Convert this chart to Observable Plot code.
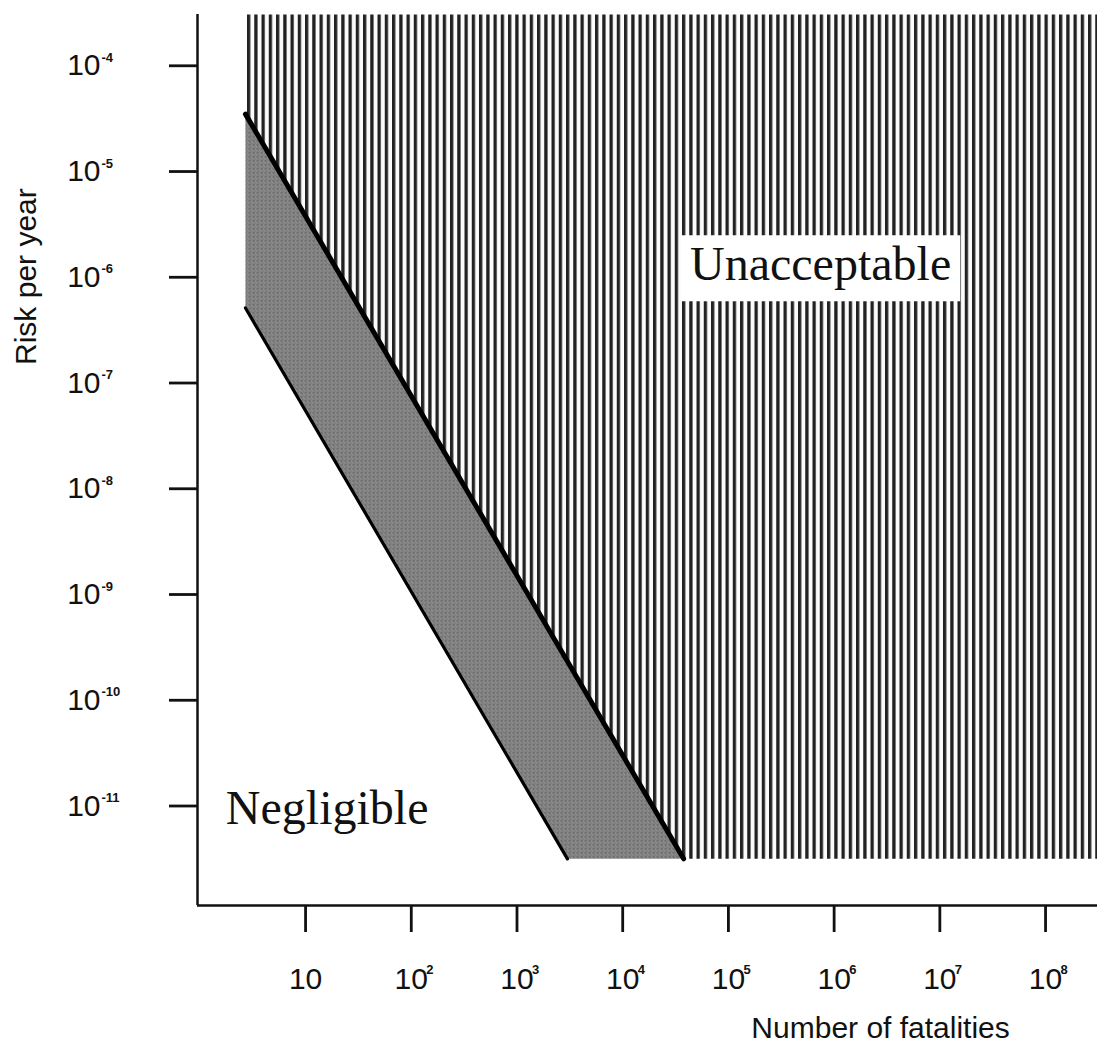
<!DOCTYPE html>
<html><head><meta charset="utf-8">
<script src="https://cdn.jsdelivr.net/npm/d3@7"></script>
<script src="https://cdn.jsdelivr.net/npm/@observablehq/plot@0.6"></script>
<style>body{margin:0;background:#fff}</style>
</head><body><div id="chart"></div>
<script>
// ---- data ----
const xDomain = [0.95, 3.1e8];          // number of fatalities
const yDomain = [1.05e-12, 2.8e-4];     // risk per year
const xTicks = [1e1, 1e2, 1e3, 1e4, 1e5, 1e6, 1e7, 1e8];
const xTickExponents = ["", "2", "3", "4", "5", "6", "7", "8"];
const yTicks = [1e-4, 1e-5, 1e-6, 1e-7, 1e-8, 1e-9, 1e-10, 1e-11];
const yTickExponents = ["-4", "-5", "-6", "-7", "-8", "-9", "-10", "-11"];
const upperLimit = [{n: 2.7, risk: 3.2e-5}, {n: 37700, risk: 2.9e-12}];
const lowerLimit = [{n: 2.7, risk: 4.7e-7}, {n: 3000, risk: 2.9e-12}];
const regionLabels = [
  {label: "Unacceptable", n: 7.45e5, risk: 1.2e-6},
  {label: "Negligible", n: 16, risk: 8.7e-12}
];
const xTitle = [{label: "Number of fatalities", n: 2.75e6}];
const yTitle = [{label: "Risk per year", risk: 9.3e-7}];

// ---- derived polygons ----
const unacceptable = [
  {n: upperLimit[0].n, risk: yDomain[1]},
  {n: xDomain[1], risk: yDomain[1]},
  {n: xDomain[1], risk: upperLimit[1].risk},
  upperLimit[1],
  upperLimit[0]
];
const band = [upperLimit[0], upperLimit[1], lowerLimit[1], lowerLimit[0]];
const xSup = xTicks.map((t, i) => ({n: t, e: xTickExponents[i]})).filter(d => d.e);
const ySup = yTicks.map((t, i) => ({risk: t, e: yTickExponents[i]}));

const ink = "#111";
const chart = Plot.plot({
  width: 1097,
  height: 1052,
  marginLeft: 197,
  marginRight: 0,
  marginTop: 14,
  marginBottom: 147,
  style: {fontFamily: "Liberation Sans, Arial, sans-serif", fontSize: "28px", color: ink, background: "#fff"},
  x: {type: "log", domain: xDomain},
  y: {type: "log", domain: yDomain},
  marks: [
    Plot.line(unacceptable, {x: "n", y: "risk", fill: "url(#vhatch)", stroke: "none"}),
    Plot.line(band, {x: "n", y: "risk", fill: "url(#band)", stroke: "none"}),
    Plot.line(upperLimit, {x: "n", y: "risk", stroke: "#000", strokeWidth: 5}),
    Plot.line(lowerLimit, {x: "n", y: "risk", stroke: "#000", strokeWidth: 3.2}),
    Plot.ruleX([xDomain[0]], {stroke: ink, strokeWidth: 2.5}),
    Plot.ruleY([yDomain[0]], {stroke: ink, strokeWidth: 2.5}),
    Plot.axisX({ticks: xTicks, tickFormat: () => "10", tickSize: 27, tickPadding: 35, strokeWidth: 2.8, label: null, fontSize: 30, stroke: ink, strokeOpacity: 1}),
    Plot.axisY({ticks: yTicks, tickFormat: () => "10", tickSize: 28, tickPadding: 69, strokeWidth: 2.8, label: null, fontSize: 30, dy: 4}),
    Plot.text(xSup, {x: "n", text: "e", frameAnchor: "bottom", lineAnchor: "middle", dx: 15, dy: 64, fontSize: 13, fontWeight: "bold", textAnchor: "start", fill: ink}),
    Plot.text(ySup, {y: "risk", text: "e", frameAnchor: "left", lineAnchor: "middle", dx: -96, dy: -4, fontSize: 13, fontWeight: "bold", textAnchor: "start", fill: ink}),
    Plot.text(regionLabels, {x: "n", y: "risk", text: "label", fontFamily: "Liberation Serif, Times New Roman, serif", fontSize: 48, fill: ink}),
    Plot.text(xTitle, {x: "n", text: "label", frameAnchor: "bottom", textAnchor: "middle", lineAnchor: "middle", dy: 123, fontSize: 30, fill: ink}),
    Plot.text(yTitle, {y: "risk", text: "label", frameAnchor: "left", textAnchor: "middle", lineAnchor: "middle", dx: -171, rotate: -90, fontSize: 30, fill: ink})
  ]
});

// patterns (style only)
const ns = "http://www.w3.org/2000/svg";
const defs = document.createElementNS(ns, "defs");
defs.innerHTML = `
  <pattern id="vhatch" patternUnits="userSpaceOnUse" width="7.25" height="10">
    <rect width="7.25" height="10" fill="#fbfbfb"></rect>
    <rect x="0" width="3.3" height="10" fill="#222"></rect>
  </pattern>
  <pattern id="band" patternUnits="userSpaceOnUse" width="4" height="4">
    <rect width="4" height="4" fill="#858585"></rect>
    <rect x="0" y="0" width="2" height="1" fill="#5a5a5a"></rect>
    <rect x="2" y="2" width="1" height="1" fill="#686868"></rect>
    <rect x="3" y="1" width="1" height="1" fill="#a0a0a0"></rect>
  </pattern>`;
chart.insertBefore(defs, chart.firstChild);
document.getElementById("chart").appendChild(chart);

// white box behind "Unacceptable"
chart.querySelectorAll("text").forEach(t => {
  if (t.textContent === "Unacceptable") {
    const b = t.getBBox();
    const r = document.createElementNS(ns, "rect");
    r.setAttribute("x", b.x - 9);
    r.setAttribute("y", b.y - 2);
    r.setAttribute("width", b.width + 18);
    r.setAttribute("height", b.height + 13);
    r.setAttribute("fill", "#fff");
    if (t.getAttribute("transform")) r.setAttribute("transform", t.getAttribute("transform"));
    t.parentNode.insertBefore(r, t);
  }
});
</script>
</body></html>
